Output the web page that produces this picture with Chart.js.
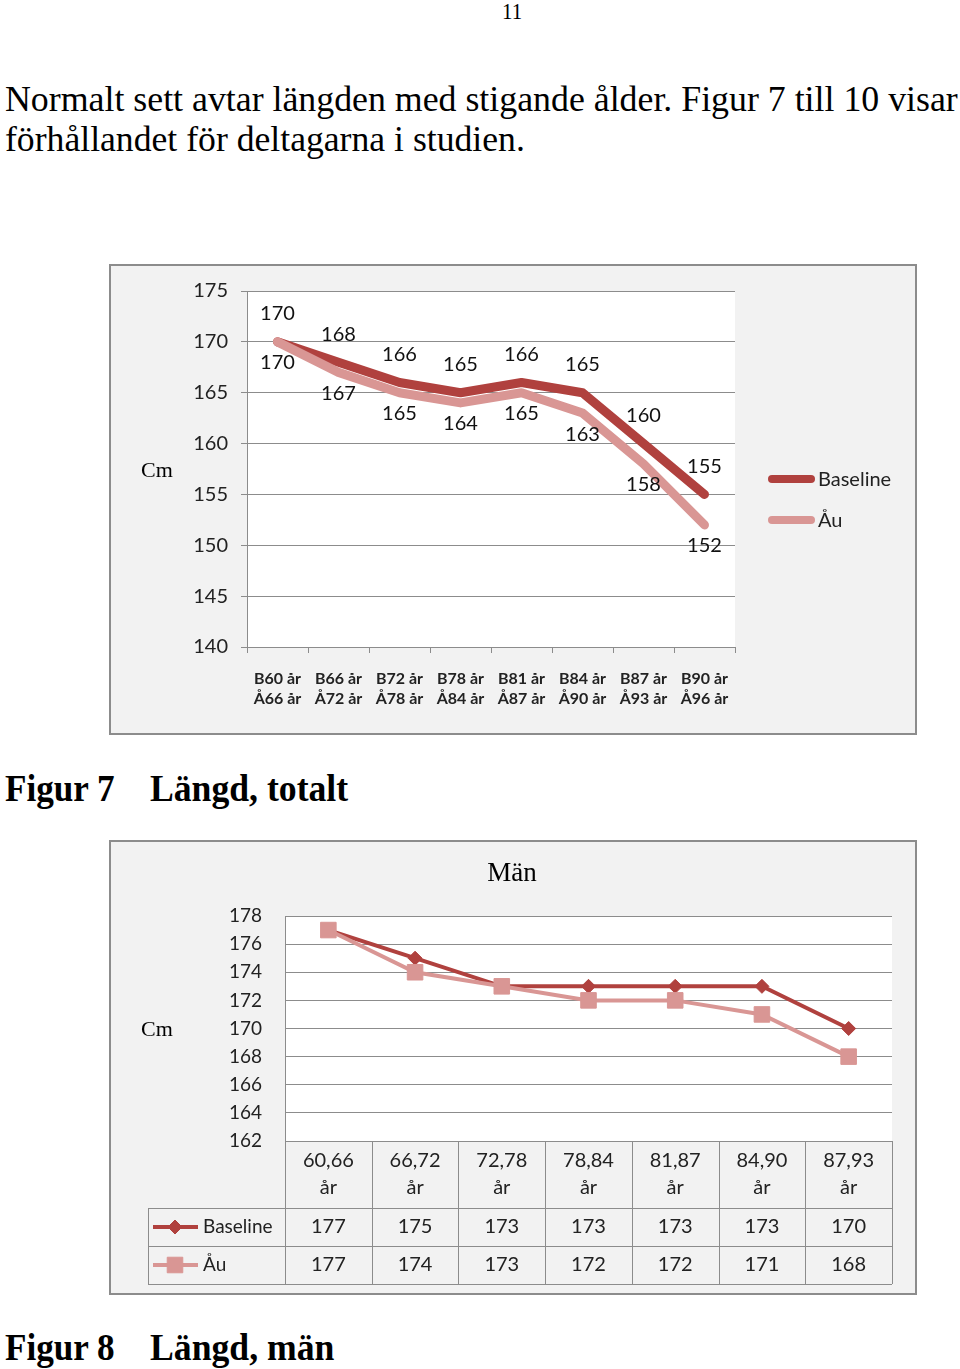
<!DOCTYPE html>
<html><head><meta charset="utf-8">
<script src="https://cdn.jsdelivr.net/npm/chart.js"></script>
<style>
body{margin:0;background:#fff;width:960px;height:1369px;position:relative;overflow:hidden}
.t{position:absolute;white-space:nowrap;font-family:"Liberation Serif","Times New Roman",serif;line-height:1;transform-origin:0 0;color:#000}
.box{position:absolute;left:109px;width:808px;box-sizing:border-box;border:2px solid #8c8c8c;background:#f2f2f2}
canvas{display:block}
</style></head><body>
<div class="t" style="left:502px;top:0px;font-size:23px" data-w="20">11</div>
<div class="t" style="left:5px;top:81px;font-size:36px" data-w="953">Normalt sett avtar längden med stigande ålder. Figur 7 till 10 visar</div>
<div class="t" style="left:5px;top:121px;font-size:36px" data-w="520">förhållandet för deltagarna i studien.</div>

<div class="box" style="top:264px;height:471px"><canvas id="c1" width="804" height="467"></canvas></div>
<div class="t" style="left:5px;top:769px;font-size:38px;font-weight:bold" data-w="110">Figur 7</div>
<div class="t" style="left:150px;top:769px;font-size:38px;font-weight:bold" data-w="198">Längd, totalt</div>

<div class="box" style="top:840px;height:455px"><canvas id="c2" width="804" height="451"></canvas></div>
<div class="t" style="left:5px;top:1328px;font-size:38px;font-weight:bold" data-w="110">Figur 8</div>
<div class="t" style="left:150px;top:1328px;font-size:38px;font-weight:bold" data-w="184">Längd, män</div>

<script>
document.querySelectorAll(".t[data-w]").forEach(el=>{
el.style.transform="scaleX("+(el.dataset.w/el.offsetWidth)+")";
});

/* DATA */
const ageB=["B60 år","B66 år","B72 år","B78 år","B81 år","B84 år","B87 år","B90 år"];
const ageA=["Å66 år","Å72 år","Å78 år","Å84 år","Å87 år","Å90 år","Å93 år","Å96 år"];
const totBase=[170,168,166,165,166,165,160,155];
const totAu=[170,167,165,164,165,163,158,152];
const totTicks=[140,145,150,155,160,165,170,175];

const menCats=["60,66 år","66,72 år","72,78 år","78,84 år","81,87 år","84,90 år","87,93 år"];
const menBase=[177,175,173,173,173,173,170];
const menAu=[177,174,173,172,172,171,168];
const menTicks=[162,164,166,168,170,172,174,176,178];

const RED="#b0413e", PINK="#d99694", GRID="#8c8c8c";

/* shared plugins */
const plotBg={id:"plotBg",beforeDraw(ch){
let a=ch.chartArea,c=ch.ctx;
c.save();c.fillStyle="#fff";c.fillRect(a.left,a.top,a.right-a.left,a.bottom-a.top);c.restore();
}};
const cm={id:"cm",afterDraw(ch){
let a=ch.chartArea,c=ch.ctx;
c.save();c.font="22px 'Liberation Serif'";c.fillStyle="#000";c.textAlign="center";c.textBaseline="middle";
c.fillText("Cm",46,(a.top+a.bottom)/2+2);c.restore();
}};

/* FIGUR 7 */
const valLabels={id:"valLabels",afterDatasetsDraw(ch){
let c=ch.ctx;
c.save();c.font="20px Lato";c.fillStyle="#111";c.textAlign="center";c.textBaseline="middle";
ch.data.datasets.forEach((ds,i)=>{
ch.getDatasetMeta(i).data.forEach((p,j)=>{
c.fillText(ds.data[j],p.x,p.y+(i==0?-28:21));
});
});
c.restore();
}};
const legend1={id:"legend1",afterDraw(ch){
let c=ch.ctx;
c.save();c.lineCap="round";c.font="20px Lato";c.textBaseline="middle";c.textAlign="left";
ch.data.datasets.forEach((ds,i)=>{
let y=213+i*41;
c.strokeStyle=ds.borderColor;c.lineWidth=8;
c.beginPath();c.moveTo(661,y);c.lineTo(700,y);c.stroke();
c.fillStyle="#222";c.fillText(ds.label,707,y+1);
});
c.restore();
}};

new Chart(document.getElementById("c1"),{
type:"line",
data:{
labels:ageB.map((b,i)=>[b,ageA[i]]),
datasets:[
{label:"Baseline",data:totBase,borderColor:RED,borderWidth:9,pointRadius:0,borderCapStyle:"round",borderJoinStyle:"round",order:2},
{label:"Åu",data:totAu,borderColor:PINK,borderWidth:9,pointRadius:0,borderCapStyle:"round",borderJoinStyle:"round",order:1}
]
},
options:{
responsive:false,animation:false,
layout:{padding:{top:23,right:180,left:0,bottom:0}},
plugins:{legend:{display:false},tooltip:{enabled:false}},
scales:{
x:{offset:true,
grid:{offset:true,drawOnChartArea:false,color:GRID,tickLength:6},
border:{color:GRID},
ticks:{font:{family:"Lato",size:16,weight:"bold",lineHeight:1.3},color:"#222",padding:15,maxRotation:0,autoSkip:false},
afterFit:s=>{s.height=86}},
y:{min:totTicks[0],max:totTicks[totTicks.length-1],
ticks:{stepSize:totTicks[1]-totTicks[0],font:{family:"Lato",size:20},color:"#222",padding:13},
grid:{color:GRID,tickLength:6},
border:{color:GRID},
afterFit:s=>{s.width=136}}
}
},
plugins:[plotBg,valLabels,legend1,cm]
});

/* FIGUR 8 */
const title2={id:"title2",afterDraw(ch){
let c=ch.ctx;
c.save();c.font="27px 'Liberation Serif'";c.fillStyle="#000";c.textAlign="center";c.textBaseline="middle";
c.fillText("Män",401,32);c.restore();
}};
const table2={id:"table2",afterDraw(ch){
let c=ch.ctx,a=ch.chartArea,xs=ch.scales.x;
let n=ch.data.labels.length,w=(a.right-a.left)/n;
let hdr=67,rowH=38,legL=37;
let r1=a.bottom+hdr,r3=r1+2*rowH;
c.save();
c.strokeStyle=GRID;c.lineWidth=1;
c.beginPath();
for(let k=0;k<3;k++){c.moveTo(legL,r1+k*rowH+0.5);c.lineTo(a.right,r1+k*rowH+0.5);}
for(let i=0;i<=n;i++){let x=Math.round(a.left+i*w)+0.5;c.moveTo(x,a.bottom);c.lineTo(x,r3);}
c.moveTo(legL+0.5,r1);c.lineTo(legL+0.5,r3);
c.stroke();
c.font="20px Lato";c.textBaseline="middle";
ch.data.datasets.forEach((ds,i)=>{
let y=r1+i*rowH+rowH/2;
c.fillStyle="#222";c.textAlign="center";
ds.data.forEach((v,j)=>c.fillText(v,xs.getPixelForValue(j),y));
c.strokeStyle=ds.borderColor;c.lineWidth=4;
c.beginPath();c.moveTo(42,y);c.lineTo(87,y);c.stroke();
c.fillStyle=ds.backgroundColor;c.strokeStyle=ds.borderColor;c.lineWidth=1;
Chart.helpers.drawPoint(c,{pointStyle:ds.pointStyle,radius:ds.pointRadius,borderWidth:1,rotation:0},64,y);
c.fillStyle="#222";c.textAlign="left";c.font="19px Lato";
c.fillText(ds.label,92,y);c.font="20px Lato";
});
c.restore();
}};

new Chart(document.getElementById("c2"),{
type:"line",
data:{
labels:menCats.map(s=>s.split(" ")),
datasets:[
{label:"Baseline",data:menBase,borderColor:RED,backgroundColor:RED,borderWidth:4,pointStyle:"rectRot",pointRadius:7,pointBorderWidth:1,order:2},
{label:"Åu",data:menAu,borderColor:PINK,backgroundColor:PINK,borderWidth:4,pointStyle:"rect",pointRadius:11,pointBorderWidth:1,order:1}
]
},
options:{
responsive:false,animation:false,
layout:{padding:{top:74,right:23,left:0,bottom:0}},
plugins:{legend:{display:false},tooltip:{enabled:false}},
scales:{
x:{offset:true,
grid:{drawOnChartArea:false,drawTicks:false},
border:{color:GRID},
ticks:{font:{family:"Lato",size:20,lineHeight:1.35},color:"#222",padding:6,maxRotation:0,autoSkip:false},
afterFit:s=>{s.height=152}},
y:{min:menTicks[0],max:menTicks[menTicks.length-1],
ticks:{stepSize:menTicks[1]-menTicks[0],font:{family:"Lato",size:19},color:"#222",padding:23},
grid:{color:GRID,drawTicks:false},
border:{color:GRID},
afterFit:s=>{s.width=174}}
}
},
plugins:[plotBg,table2,title2,cm]
});
</script>
</body></html>
